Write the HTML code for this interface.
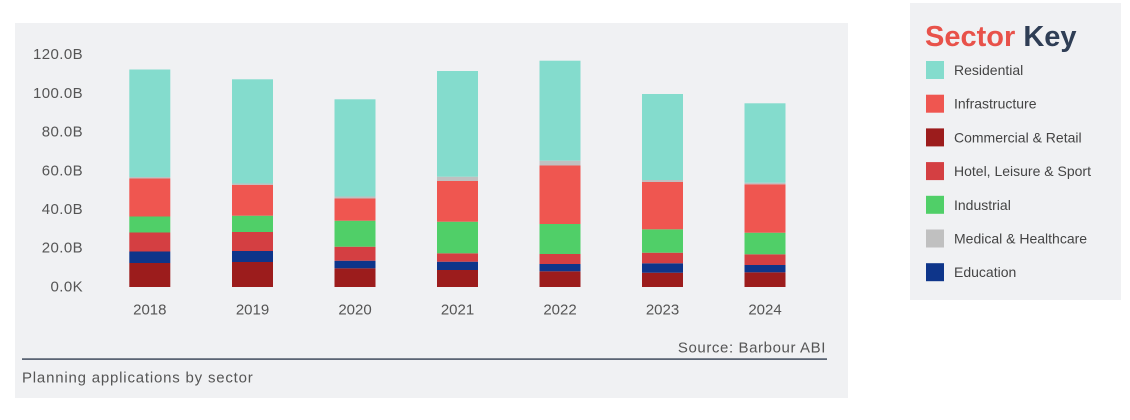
<!DOCTYPE html>
<html>
<head>
<meta charset="utf-8">
<style>
  html,body{margin:0;padding:0;background:#ffffff;}
  body{width:1130px;height:420px;overflow:hidden;position:relative;font-family:"Liberation Sans",sans-serif;}
  svg{position:absolute;left:0;top:0;}
</style>
</head>
<body>
<svg width="1130" height="420" viewBox="0 0 1130 420" xmlns="http://www.w3.org/2000/svg" font-family="Liberation Sans, sans-serif">
  <!-- chart panel -->
  <rect x="15" y="23" width="833" height="375" fill="#f0f1f3"/>
  <!-- legend panel -->
  <rect x="910" y="3" width="211" height="297" fill="#f0f1f3"/>

  <!-- y axis labels -->
  <g font-size="15" fill="#555" text-anchor="end" dominant-baseline="central" letter-spacing="0.4">
    <text x="83" y="54.7">120.0B</text>
    <text x="83" y="93.4">100.0B</text>
    <text x="83" y="132.1">80.0B</text>
    <text x="83" y="170.8">60.0B</text>
    <text x="83" y="209.5">40.0B</text>
    <text x="83" y="248.2">20.0B</text>
    <text x="83" y="287">0.0K</text>
  </g>

  <!-- 2018 -->
  <g>
    <rect x="129.3" y="263" width="41" height="24" fill="#9c1c1c"/>
    <rect x="129.3" y="251.5" width="41" height="11.5" fill="#0e358a"/>
    <rect x="129.3" y="232.5" width="41" height="19" fill="#d43f42"/>
    <rect x="129.3" y="216.5" width="41" height="16" fill="#50cf68"/>
    <rect x="129.3" y="178.5" width="41" height="38" fill="#ef5650"/>
    <rect x="129.3" y="177" width="41" height="1.5" fill="#c0c0c0"/>
    <rect x="129.3" y="69.5" width="41" height="107.5" fill="#84dccd"/>
  </g>
  <!-- 2019 -->
  <g>
    <rect x="232" y="262" width="41" height="25" fill="#9c1c1c"/>
    <rect x="232" y="251" width="41" height="11" fill="#0e358a"/>
    <rect x="232" y="232" width="41" height="19" fill="#d43f42"/>
    <rect x="232" y="215.7" width="41" height="16.3" fill="#50cf68"/>
    <rect x="232" y="185" width="41" height="30.7" fill="#ef5650"/>
    <rect x="232" y="183.5" width="41" height="1.5" fill="#c0c0c0"/>
    <rect x="232" y="79.3" width="41" height="104.2" fill="#84dccd"/>
  </g>
  <!-- 2020 -->
  <g>
    <rect x="334.5" y="268.3" width="41" height="18.7" fill="#9c1c1c"/>
    <rect x="334.5" y="260.7" width="41" height="7.6" fill="#0e358a"/>
    <rect x="334.5" y="246.7" width="41" height="14" fill="#d43f42"/>
    <rect x="334.5" y="220.7" width="41" height="26" fill="#50cf68"/>
    <rect x="334.5" y="198.5" width="41" height="22.2" fill="#ef5650"/>
    <rect x="334.5" y="196.5" width="41" height="2" fill="#c0c0c0"/>
    <rect x="334.5" y="99.3" width="41" height="97.2" fill="#84dccd"/>
  </g>
  <!-- 2021 -->
  <g>
    <rect x="437" y="270" width="41" height="17" fill="#9c1c1c"/>
    <rect x="437" y="261.7" width="41" height="8.3" fill="#0e358a"/>
    <rect x="437" y="253.3" width="41" height="8.4" fill="#d43f42"/>
    <rect x="437" y="221.7" width="41" height="31.6" fill="#50cf68"/>
    <rect x="437" y="181" width="41" height="40.7" fill="#ef5650"/>
    <rect x="437" y="176.7" width="41" height="4.3" fill="#c0c0c0"/>
    <rect x="437" y="71" width="41" height="105.7" fill="#84dccd"/>
  </g>
  <!-- 2022 -->
  <g>
    <rect x="539.5" y="271.3" width="41" height="15.7" fill="#9c1c1c"/>
    <rect x="539.5" y="264" width="41" height="7.3" fill="#0e358a"/>
    <rect x="539.5" y="254" width="41" height="10" fill="#d43f42"/>
    <rect x="539.5" y="224" width="41" height="30" fill="#50cf68"/>
    <rect x="539.5" y="165.5" width="41" height="58.5" fill="#ef5650"/>
    <rect x="539.5" y="160.7" width="41" height="4.8" fill="#c0c0c0"/>
    <rect x="539.5" y="60.7" width="41" height="100" fill="#84dccd"/>
  </g>
  <!-- 2023 -->
  <g>
    <rect x="642" y="272.7" width="41" height="14.3" fill="#9c1c1c"/>
    <rect x="642" y="263.3" width="41" height="9.4" fill="#0e358a"/>
    <rect x="642" y="252.7" width="41" height="10.6" fill="#d43f42"/>
    <rect x="642" y="229.3" width="41" height="23.4" fill="#50cf68"/>
    <rect x="642" y="182" width="41" height="47.3" fill="#ef5650"/>
    <rect x="642" y="180" width="41" height="2" fill="#c0c0c0"/>
    <rect x="642" y="94" width="41" height="86" fill="#84dccd"/>
  </g>
  <!-- 2024 -->
  <g>
    <rect x="744.5" y="272.3" width="41" height="14.7" fill="#9c1c1c"/>
    <rect x="744.5" y="265" width="41" height="7.3" fill="#0e358a"/>
    <rect x="744.5" y="254.3" width="41" height="10.7" fill="#d43f42"/>
    <rect x="744.5" y="232.7" width="41" height="21.6" fill="#50cf68"/>
    <rect x="744.5" y="184.3" width="41" height="48.4" fill="#ef5650"/>
    <rect x="744.5" y="182.7" width="41" height="1.6" fill="#c0c0c0"/>
    <rect x="744.5" y="103.3" width="41" height="79.4" fill="#84dccd"/>
  </g>

  <!-- x axis labels -->
  <g font-size="15" fill="#555" text-anchor="middle" dominant-baseline="central">
    <text x="149.8" y="310">2018</text>
    <text x="252.5" y="310">2019</text>
    <text x="355" y="310">2020</text>
    <text x="457.5" y="310">2021</text>
    <text x="560" y="310">2022</text>
    <text x="662.5" y="310">2023</text>
    <text x="765" y="310">2024</text>
  </g>

  <!-- source + rule + caption -->
  <text x="826" y="352.3" font-size="15" fill="#555" text-anchor="end" letter-spacing="0.6">Source: Barbour ABI</text>
  <rect x="22" y="358.3" width="805" height="1.6" fill="#4a5566"/>
  <text x="22" y="382.7" font-size="15" fill="#555" letter-spacing="0.8">Planning applications by sector</text>

  <!-- legend -->
  <text x="925" y="46" font-size="29" font-weight="bold"><tspan fill="#e8524a">Sector</tspan><tspan fill="#2f3e55"> Key</tspan></text>
  <g>
    <rect x="926" y="61" width="18" height="18" fill="#84dccd"/>
    <rect x="926" y="94.7" width="18" height="18" fill="#ef5650"/>
    <rect x="926" y="128.4" width="18" height="18" fill="#9c1c1c"/>
    <rect x="926" y="162.1" width="18" height="18" fill="#d43f42"/>
    <rect x="926" y="195.8" width="18" height="18" fill="#50cf68"/>
    <rect x="926" y="229.5" width="18" height="18" fill="#c0c0c0"/>
    <rect x="926" y="263.2" width="18" height="18" fill="#0e358a"/>
  </g>
  <g font-size="14" fill="#444" dominant-baseline="central">
    <text x="954" y="70">Residential</text>
    <text x="954" y="103.7">Infrastructure</text>
    <text x="954" y="137.4">Commercial &amp; Retail</text>
    <text x="954" y="171.1">Hotel, Leisure &amp; Sport</text>
    <text x="954" y="204.8">Industrial</text>
    <text x="954" y="238.5">Medical &amp; Healthcare</text>
    <text x="954" y="272.2">Education</text>
  </g>
</svg>
</body>
</html>
